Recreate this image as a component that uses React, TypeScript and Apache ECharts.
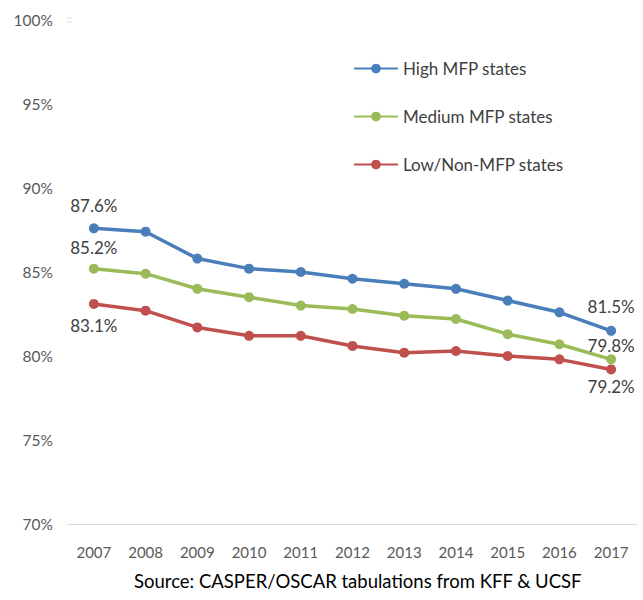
import React, { useEffect, useRef } from "react";
import * as echarts from "echarts";

const years = ["2007", "2008", "2009", "2010", "2011", "2012", "2013", "2014", "2015", "2016", "2017"];
const highMFP = [87.6, 87.4, 85.8, 85.2, 85.0, 84.6, 84.3, 84.0, 83.3, 82.6, 81.5];
const mediumMFP = [85.2, 84.9, 84.0, 83.5, 83.0, 82.8, 82.4, 82.2, 81.3, 80.7, 79.8];
const lowMFP = [83.1, 82.7, 81.7, 81.2, 81.2, 80.6, 80.2, 80.3, 80.0, 79.8, 79.2];
const seriesNames = ["High MFP states", "Medium MFP states", "Low/Non-MFP states"];
const seriesColors = ["#4a7ebb", "#9bbb59", "#c0504d"];
const sourceText = "Source: CASPER/OSCAR tabulations from KFF & UCSF";

const FONT = "Lato, 'Open Sans', sans-serif";

function labeled(values: number[], firstPos: string, lastPos: string, firstDist: number, lastDist: number) {
  return values.map((v, i) => {
    if (i === 0 || i === values.length - 1) {
      const pos = i === 0 ? firstPos : lastPos;
      const dist = i === 0 ? firstDist : lastDist;
      return {
        value: v,
        label: {
          show: true,
          position: pos,
          distance: dist,
          formatter: (p: any) => p.value.toFixed(1) + "%",
          color: "#404040",
          fontSize: 17,
          fontFamily: FONT,
        },
      };
    }
    return v;
  });
}

export default function App() {
  const ref = useRef<HTMLDivElement>(null);
  useEffect(() => {
    if (!ref.current) return;
    const chart = echarts.init(ref.current, null, { renderer: "svg" });
    const datasets = [
      labeled(highMFP, "top", "top", 9, 11),
      labeled(mediumMFP, "top", "top", 8, 0),
      labeled(lowMFP, "bottom", "bottom", 8, 4),
    ];
    chart.setOption({
      animation: false,
      backgroundColor: "#ffffff",
      grid: { left: 68, right: 6, top: 20, bottom: 76, containLabel: false },
      legend: {
        orient: "vertical",
        left: 348,
        top: 55,
        itemWidth: 44,
        itemHeight: 12,
        itemGap: 31,
        data: seriesNames,
        textStyle: { color: "#404040", fontSize: 17, fontFamily: FONT },
      },
      xAxis: {
        type: "category",
        data: years,
        boundaryGap: true,
        axisLine: { show: true, lineStyle: { color: "#d9d9d9", width: 1 } },
        axisTick: { show: false },
        axisLabel: { color: "#595959", fontSize: 15, fontFamily: FONT, margin: 20 },
        splitLine: { show: false },
      },
      yAxis: {
        type: "value",
        min: 70,
        max: 100,
        interval: 5,
        axisLine: { show: false },
        axisTick: { show: false },
        splitLine: { show: false },
        axisLabel: {
          color: "#595959",
          fontSize: 15.5,
          fontFamily: FONT,
          margin: 15,
          formatter: (v: number) => v + "%",
        },
      },
      series: seriesNames.map((name, i) => ({
        name,
        type: "line",
        data: datasets[i],
        color: seriesColors[i],
        symbol: "circle",
        symbolSize: 10,
        lineStyle: { width: 3.5, color: seriesColors[i] },
        itemStyle: { color: seriesColors[i] },
      })),
      graphic: [
        {
          type: "text",
          left: 134,
          top: 571,
          style: { text: sourceText, fill: "#000000", fontSize: 18.5, fontFamily: FONT },
        },
        { type: "line", shape: { x1: 67, y1: 18, x2: 72, y2: 18 }, style: { stroke: "#d9d9d9", lineWidth: 1 } },
        { type: "line", shape: { x1: 67, y1: 22, x2: 72, y2: 22 }, style: { stroke: "#d9d9d9", lineWidth: 1 } },
      ],
    });
    return () => chart.dispose();
  }, []);
  return (
    <div
      ref={ref}
      style={{ position: "absolute", left: 0, top: 0, width: 643, height: 600 }}
    />
  );
}
